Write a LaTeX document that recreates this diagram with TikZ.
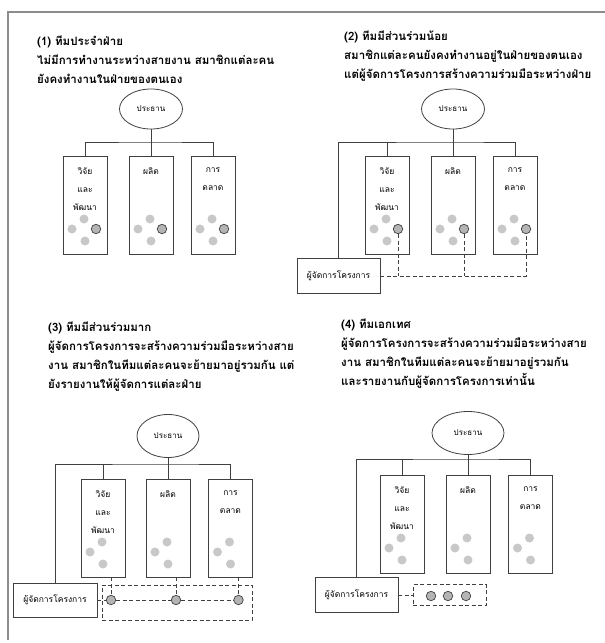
\documentclass[tikz,border=0pt]{standalone}
\usepackage{fontspec}
\newfontfamily\thai[Script=Thai]{Loma}
\usetikzlibrary{positioning,calc,shapes.geometric}
\definecolor{linegray}{HTML}{404040}
\definecolor{framegray}{HTML}{8C8C8C}
\definecolor{memgray}{HTML}{C8C8C8}
\definecolor{leadgray}{HTML}{B4B4B4}

\begin{document}
\begin{tikzpicture}[
  x=1pt, y=-1pt,
  title/.style={anchor=north west, align=left, inner sep=0pt, font=\thai\bfseries\fontsize{11.5}{19}\selectfont},
  chair/.style={draw=linegray, line width=0.8pt, ellipse, minimum width=63pt, minimum height=40pt, inner sep=0pt, font=\thai\fontsize{8}{10}\selectfont},
  dept/.style={draw=linegray, line width=0.9pt, minimum width=44pt, minimum height=98pt, inner sep=0pt},
  deptname/.style={anchor=north, align=center, inner sep=0pt, font=\thai\fontsize{8.5}{18}\selectfont},
  manager/.style={draw=linegray, line width=0.9pt, minimum width=83pt, minimum height=35pt, inner sep=0pt, font=\thai\fontsize{8.5}{10}\selectfont},
  member/.style={circle, fill=memgray, minimum size=9pt, inner sep=0pt},
  lead/.style={circle, draw=linegray, line width=0.7pt, fill=leadgray, minimum size=9.5pt, inner sep=0pt},
  team/.style={draw=linegray, line width=0.9pt, dash pattern=on 4pt off 2.5pt, inner sep=0pt},
  link/.style={draw=linegray, line width=0.9pt, dash pattern=on 4pt off 2.5pt},
  wire/.style={draw=linegray, line width=0.9pt}
]
\useasboundingbox (0,0) rectangle (605,643);
\draw[framegray, line width=1.2pt] (605,12) -- (8,12) -- (8,640);

% (1) functional team
\node[title] (head1) at (37,36) {(1) ทีมประจำฝ่าย\\ไม่มีการทำงานระหว่างสายงาน สมาชิกแต่ละคน\\ยังคงทำงานในฝ่ายของตนเอง};
\node[chair] (chair1) at (151,109) {ประธาน};
\node[dept] (rd1) at (85,205) {};
\node[dept] (prod1) at (151,205) {};
\node[dept] (cmk1) at (213,205) {};
\node[deptname, below=12pt of rd1.north] (rd1name) {วิจัย\\และ\\พัฒนา};
\node[deptname, below=12pt of prod1.north] (prod1name) {ผลิต};
\node[deptname, below=12pt of cmk1.north] (cmk1name) {การ\\ตลาด};
\coordinate (bus1) at (151,142);
\draw[wire] (rd1) |- (bus1) -| (cmk1);
\draw[wire] (chair1) -- (prod1);

% (2) light matrix
\node[title] (head2) at (344,31) {(2) ทีมมีส่วนร่วมน้อย\\สมาชิกแต่ละคนยังคงทำงานอยู่ในฝ่ายของตนเอง\\แต่ผู้จัดการโครงการสร้างความร่วมมือระหว่างฝ่าย};
\node[chair] (chair2) at (453,109) {ประธาน};
\node[dept] (rd2) at (387,205) {};
\node[dept] (prod2) at (453,205) {};
\node[dept] (cmk2) at (515,205) {};
\node[deptname, below=12pt of rd2.north] (rd2name) {วิจัย\\และ\\พัฒนา};
\node[deptname, below=12pt of prod2.north] (prod2name) {ผลิต};
\node[deptname, below=12pt of cmk2.north] (cmk2name) {การ\\ตลาด};
\node[manager] (mgr2) at (338.5,276) {ผู้จัดการโครงการ};
\coordinate (bus2) at (453,142);
\draw[wire] (mgr2) |- (bus2) -| (cmk2);
\draw[wire] (bus2 -| rd2) -- (rd2);
\draw[wire] (chair2) -- (prod2);

% (3) heavy matrix
\node[title] (head3) at (48,322) {(3) ทีมมีส่วนร่วมมาก\\ผู้จัดการโครงการจะสร้างความร่วมมือระหว่างสาย\\งาน สมาชิกในทีมแต่ละคนจะย้ายมาอยู่รวมกัน แต่\\ยังรายงานให้ผู้จัดการแต่ละฝ่าย};
\node[chair, minimum width=62pt, minimum height=43pt] (chair3) at (168,436) {ประธาน};
\node[dept] (rd3) at (103,528) {};
\node[dept] (prod3) at (168,528) {};
\node[dept] (cmk3) at (230.5,528) {};
\node[deptname, below=12pt of rd3.north] (rd3name) {วิจัย\\และ\\พัฒนา};
\node[deptname, below=12pt of prod3.north] (prod3name) {ผลิต};
\node[deptname, below=12pt of cmk3.north] (cmk3name) {การ\\ตลาด};
\node[manager, minimum width=84pt, minimum height=34pt] (mgr3) at (55,600) {ผู้จัดการโครงการ};
\node[team, minimum width=150pt, minimum height=35pt] (team3) at (177,602.5) {};
\coordinate (bus3) at (168,464);
\draw[wire] (mgr3) |- (bus3) -| (cmk3);
\draw[wire] (bus3 -| rd3) -- (rd3);
\draw[wire] (chair3) -- (prod3);

% (4) project team
\node[title] (head4) at (341,319) {(4) ทีมเอกเทศ\\ผู้จัดการโครงการจะสร้างความร่วมมือระหว่างสาย\\งาน สมาชิกในทีมแต่ละคนจะย้ายมาอยู่รวมกัน\\และรายงานกับผู้จัดการโครงการเท่านั้น};
\node[chair, minimum width=72pt, minimum height=43pt] (chair4) at (468,433) {ประธาน};
\node[dept] (rd4) at (402,524) {};
\node[dept] (prod4) at (468,524) {};
\node[dept] (cmk4) at (530.5,524) {};
\node[deptname, below=12pt of rd4.north] (rd4name) {วิจัย\\และ\\พัฒนา};
\node[deptname, below=12pt of prod4.north] (prod4name) {ผลิต};
\node[deptname, below=12pt of cmk4.north] (cmk4name) {การ\\ตลาด};
\node[manager] (mgr4) at (356.5,595) {ผู้จัดการโครงการ};
\node[team, minimum width=73pt, minimum height=21pt] (team4) at (449.5,595) {};
\coordinate (bus4) at (468,459);
\draw[wire] (mgr4) |- (bus4) -| (cmk4);
\draw[wire] (bus4 -| rd4) -- (rd4);
\draw[wire] (chair4) -- (prod4);

% members in the departments
\foreach \b in {rd1,prod1,cmk1,rd2,prod2,cmk2,rd3,prod3,cmk3,rd4,prod4,cmk4} {
  \node[member] (\b-t) at ([shift={(-1,14)}]\b) {};
  \node[member] (\b-l) at ([shift={(-13,24)}]\b) {};
  \node[member] (\b-b) at ([shift={(0,36)}]\b) {};
}
\foreach \b in {rd1,prod1,cmk1,rd2,prod2,cmk2}
  \node[lead] (\b-lead) at ([shift={(11,24)}]\b) {};

% project links
\draw[link] (mgr2.east) -- (mgr2.east -| cmk2-lead) -- (cmk2-lead);
\draw[link] (rd2-lead) -- (rd2-lead |- mgr2.east);
\draw[link] (prod2-lead) -- (prod2-lead |- mgr2.east);

\node[lead] (rd3-lead) at (111,600) {};
\node[lead] (prod3-lead) at (176,600) {};
\node[lead] (cmk3-lead) at (238.5,600) {};
\draw[link] (mgr3) -- (rd3-lead) -- (prod3-lead) -- (cmk3-lead);
\draw[link] (rd3-lead |- rd3.south) -- (rd3-lead);
\draw[link] (prod3-lead |- prod3.south) -- (prod3-lead);
\draw[link] (cmk3-lead |- cmk3.south) -- (cmk3-lead);

\node[lead] (pm4a) at (431,596) {};
\node[lead] (pm4b) at (448,596) {};
\node[lead] (pm4c) at (466,596) {};
\draw[link] (mgr4) -- (team4);
\end{tikzpicture}
\end{document}
